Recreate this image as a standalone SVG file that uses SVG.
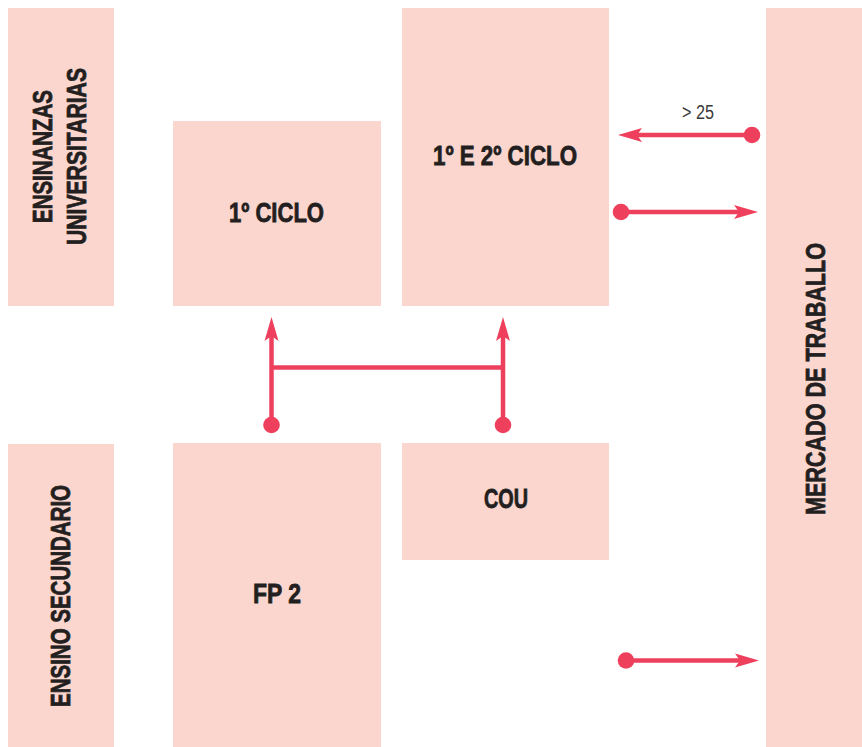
<svg xmlns="http://www.w3.org/2000/svg" width="862" height="747" viewBox="0 0 862 747">
<style>
.box{fill:#FBD6CE}
.t{font-family:"Liberation Sans Narrow","Liberation Sans",Arial,sans-serif;font-weight:bold;font-size:27px;fill:#231F20;stroke:#231F20;stroke-width:0.8}
.ln{stroke:#EE405C;stroke-width:4.5;fill:none}
.dot,.ah{fill:#EE405C}
.lbl{font-family:"Liberation Sans Narrow","Liberation Sans",Arial,sans-serif;font-size:20px;fill:#3a3a3a}
</style>
<rect width="862" height="747" fill="#fff"/>
<g id="ensinanzas">
<rect class="box" x="8" y="8" width="106" height="298"/>
<text class="t" transform="translate(52,156.5) rotate(-90)" text-anchor="middle" textLength="133" lengthAdjust="spacingAndGlyphs">ENSINANZAS</text>
<text class="t" transform="translate(86,156.5) rotate(-90)" text-anchor="middle" textLength="177" lengthAdjust="spacingAndGlyphs">UNIVERSITARIAS</text>
</g>
<g id="ciclo1">
<rect class="box" x="173" y="121" width="208" height="185"/>
<text class="t" x="276.5" y="222" text-anchor="middle" textLength="95" lengthAdjust="spacingAndGlyphs">1º CICLO</text>
</g>
<g id="ciclo12">
<rect class="box" x="402" y="8" width="207" height="298"/>
<text class="t" x="505" y="165" text-anchor="middle" textLength="144" lengthAdjust="spacingAndGlyphs">1º E 2º CICLO</text>
</g>
<g id="mercado">
<rect class="box" x="766" y="8" width="96" height="739"/>
<text class="t" transform="translate(825,379) rotate(-90)" text-anchor="middle" textLength="272" lengthAdjust="spacingAndGlyphs">MERCADO DE TRABALLO</text>
</g>
<g id="secundario">
<rect class="box" x="8" y="444" width="106" height="303"/>
<text class="t" transform="translate(70,596) rotate(-90)" text-anchor="middle" textLength="222" lengthAdjust="spacingAndGlyphs">ENSINO SECUNDARIO</text>
</g>
<g id="fp2">
<rect class="box" x="173" y="443" width="208" height="304"/>
<text class="t" x="277" y="603" text-anchor="middle" textLength="48" lengthAdjust="spacingAndGlyphs">FP 2</text>
</g>
<g id="cou">
<rect class="box" x="402" y="443" width="207" height="117"/>
<text class="t" x="506" y="508" text-anchor="middle" textLength="44" lengthAdjust="spacingAndGlyphs">COU</text>
</g>
<g id="connectors">
<line class="ln" x1="752" y1="135" x2="637" y2="135"/>
<path class="ah" d="M618,135 L642,128 L637,135 L642,142 Z"/>
<circle class="dot" cx="752" cy="135" r="8.3"/>
<text class="lbl" x="698" y="119" text-anchor="middle" textLength="32" lengthAdjust="spacingAndGlyphs">&gt; 25</text>
<line class="ln" x1="621" y1="212" x2="740" y2="212"/>
<path class="ah" d="M758,212 L734,205 L739,212 L734,219 Z"/>
<circle class="dot" cx="621" cy="212" r="8.3"/>
<line class="ln" x1="626" y1="660.5" x2="741" y2="660.5"/>
<path class="ah" d="M759,660.5 L735,653.5 L740,660.5 L735,667.5 Z"/>
<circle class="dot" cx="626" cy="660.5" r="8.3"/>
<line class="ln" x1="271.5" y1="425" x2="271.5" y2="336"/>
<path class="ah" d="M271.5,317 L264.5,341 L271.5,336 L278.5,341 Z"/>
<circle class="dot" cx="271.5" cy="425" r="8.3"/>
<line class="ln" x1="503" y1="425" x2="503" y2="336"/>
<path class="ah" d="M503,317 L496,341 L503,336 L510,341 Z"/>
<circle class="dot" cx="503" cy="425" r="8.3"/>
<line class="ln" x1="271.5" y1="367.5" x2="503" y2="367.5"/>
</g>
</svg>
